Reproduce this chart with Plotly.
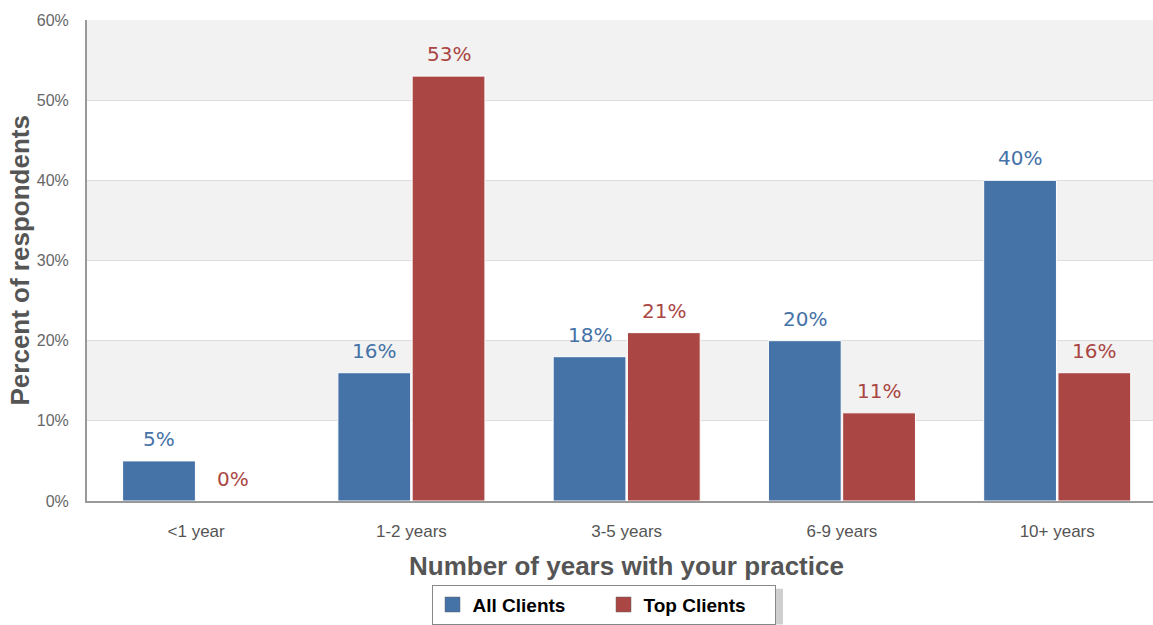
import plotly.graph_objects as go

categories = ["<1 year", "1-2 years", "3-5 years", "6-9 years", "10+ years"]
all_clients = [5, 16, 18, 20, 40]
top_clients = [0, 53, 21, 11, 16]
y_ticks = [0, 10, 20, 30, 40, 50, 60]
y_tick_labels = ["0%", "10%", "20%", "30%", "40%", "50%", "60%"]
series = [("All Clients", all_clients, "#4572a7"), ("Top Clients", top_clients, "#aa4643")]

W, H = 1153, 625
L, R, T, B = 87, 0, 20, 122
plot_w = W - L - R
plot_h = H - T - B
x_range = [-0.507, 4.445]
px_per_cat = plot_w / (x_range[1] - x_range[0])
bargap, bargroupgap = 0.31, 0.02
slot = (1 - bargap) / 2
bar_offsets_px = [-slot / 2 * px_per_cat, slot / 2 * px_per_cat]

fig = go.Figure()
annotations = []
for i, (name, vals, color) in enumerate(series):
    fig.add_trace(go.Bar(
        x=categories, y=vals, name=name, showlegend=False,
        marker=dict(color=color, line=dict(color="white", width=1)),
    ))
    for c, v in zip(categories, vals):
        annotations.append(dict(
            x=c, y=v, xref="x", yref="y", text=f"{v}%", showarrow=False,
            xshift=bar_offsets_px[i], yshift=8, yanchor="bottom",
            font=dict(color=color, size=20, family="DejaVu Sans"),
        ))
# legend entries
for name, vals, color in series:
    fig.add_trace(go.Scatter(
        x=[None], y=[None], mode="markers", name=f"<b>{name}</b>",
        marker=dict(symbol="square", size=15, color=color, line=dict(color="#666", width=0.5)),
    ))

annotations.append(dict(
    text="<b>Number of years with your practice</b>", xref="paper", yref="paper",
    x=0.5, y=-(568 - (H - B)) / plot_h, xshift=6, yanchor="middle", showarrow=False,
    font=dict(size=26, color="#555", family="Liberation Sans, Arial"),
))
annotations.append(dict(
    text="<b>Percent of respondents</b>", xref="paper", yref="paper",
    x=-(L - 19) / plot_w, y=0.5, xanchor="center", yanchor="middle", textangle=-90,
    showarrow=False, font=dict(size=26, color="#555", family="Liberation Sans, Arial"),
))

def px_to_paper_x(px):
    return (px - L) / plot_w

def px_to_paper_y(py):
    return (H - B - py) / plot_h

shapes = []
for lo in (10, 30, 50):
    shapes.append(dict(type="rect", xref="paper", yref="y", x0=0, x1=1, y0=lo, y1=lo + 10,
                       fillcolor="#f2f2f2", line=dict(width=0), layer="below"))
# legend shadow
shapes.append(dict(type="rect", xref="paper", yref="paper",
                   x0=px_to_paper_x(440), x1=px_to_paper_x(783),
                   y0=px_to_paper_y(591), y1=px_to_paper_y(627),
                   fillcolor="#cfcfcf", line=dict(width=0), layer="below"))

fig.update_layout(
    width=W, height=H,
    margin=dict(l=L, r=R, t=T, b=B),
    paper_bgcolor="white", plot_bgcolor="white",
    barmode="group", bargap=bargap, bargroupgap=bargroupgap,
    shapes=shapes, annotations=annotations,
    font=dict(family="Liberation Sans, Arial", color="#555"),
    xaxis=dict(
        range=x_range,
        showline=True, linecolor="#999", linewidth=2,
        tickfont=dict(size=17, color="#555"), ticklabelstandoff=14,
        ticks="",
    ),
    yaxis=dict(
        range=[0, 60], tickvals=y_ticks, ticktext=y_tick_labels,
        showline=True, linecolor="#999", linewidth=2,
        showgrid=True, gridcolor="#dddddd", gridwidth=1,
        tickfont=dict(size=16, color="#666"), ticklabelstandoff=13,
        zeroline=False,
    ),
    legend=dict(
        orientation="h", x=px_to_paper_x(603.5), xanchor="center",
        y=px_to_paper_y(587), yanchor="top",
        bordercolor="#888", borderwidth=1, bgcolor="white",
        font=dict(size=19, color="black", family="Liberation Sans, Arial"),
        traceorder="normal", entrywidth=126, entrywidthmode="pixels",
    ),
)

fig.write_html("out.html")
